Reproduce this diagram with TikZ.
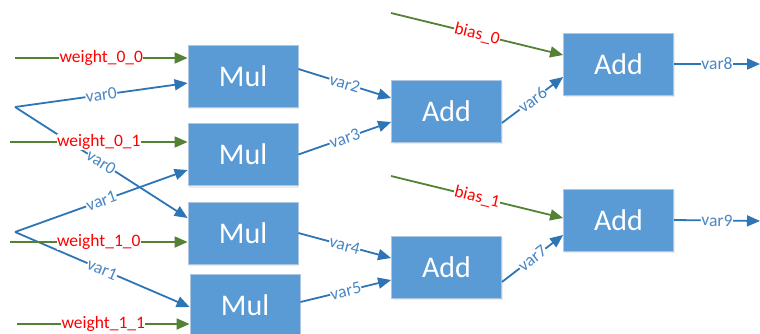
\documentclass[tikz,border=0pt]{standalone}
\usepackage{fontspec}
\setmainfont{Carlito}
\usepackage{xcolor}
\usetikzlibrary{positioning,calc,arrows.meta,shadows}
\definecolor{boxblue}{HTML}{5B9BD5}
\definecolor{boxedge}{HTML}{AFC6E0}
\definecolor{flowblue}{HTML}{2E75B6}
\definecolor{labelblue}{HTML}{4A86C4}
\definecolor{weightgreen}{HTML}{548235}
\tikzset{
    opbox/.style={draw=boxedge, line width=0.8pt, fill=boxblue, text=white,
        minimum width=110pt, minimum height=62pt, inner sep=0pt,
        font=\fontsize{30}{30}\selectfont,
        drop shadow={shadow xshift=1pt, shadow yshift=-2pt, opacity=0.15}},
    varflow/.style={draw=flowblue, line width=1.8pt, -{Triangle[length=13pt,width=11pt]}},
    paramflow/.style={draw=weightgreen, line width=1.8pt, -{Triangle[length=13pt,width=11pt]}},
    varlbl/.style={midway, sloped, fill=white, inner sep=0.5pt, text=labelblue,
        font=\fontsize{17.5}{17.5}\selectfont},
    paramlbl/.style={midway, sloped, fill=white, inner sep=0.5pt, text=red,
        font=\fontsize{17.5}{17.5}\selectfont}
}

\begin{document}
\begin{tikzpicture}[x=1pt, y=-1pt]
    \useasboundingbox (0,0) rectangle (760,333);

    % Mul layer
    \node[opbox] (mul1) at (243,76) {Mul};
    \node[opbox] (mul2) at (243,154.5) {Mul};
    \node[opbox] (mul3) at (243,233) {Mul};
    \node[opbox] (mul4) at (245,305) {Mul};

    % Add layers
    \node[opbox] (addA) at (446.5,111) {Add};
    \node[opbox] (addB) at (446.5,267) {Add};
    \node[opbox] (addC) at (618.5,64) {Add};
    \node[opbox] (addD) at (618.5,220) {Add};

    % free ends
    \coordinate (x0) at (15,107);
    \coordinate (x1) at (15,232);
    \coordinate (w00) at (15,58);
    \coordinate (w01) at (10,142);
    \coordinate (w10) at (10,242);
    \coordinate (w11) at (17,324);
    \coordinate (b0) at (391,13);
    \coordinate (b1) at (391,176);
    \coordinate (out8) at (760,64);
    \coordinate (out9) at (760,221);

    % inputs
    \draw[varflow] (x0) -- ([yshift=-7pt]mul1.west) node[varlbl] {var0};
    \draw[varflow] (x0) -- ([yshift=15pt]mul3.west) node[varlbl] {var0};
    \draw[varflow] (x1) -- ([yshift=-15.5pt]mul2.west) node[varlbl] {var1};
    \draw[varflow] (x1) -- ([yshift=-2pt]mul4.west) node[varlbl] {var1};

    \draw[paramflow] (w00) -- (w00 -| mul1.west) node[paramlbl] {weight\_0\_0};
    \draw[paramflow] (w01) -- (w01 -| mul2.west) node[paramlbl] {weight\_0\_1};
    \draw[paramflow] (w10) -- (w10 -| mul3.west) node[paramlbl] {weight\_1\_0};
    \draw[paramflow] (w11) -- (w11 -| mul4.west) node[paramlbl] {weight\_1\_1};

    % Mul -> Add
    \draw[varflow] ([yshift=7pt]mul1.east) -- ([yshift=13pt]addA.west) node[varlbl] {var2};
    \draw[varflow] (mul2.east) -- ([yshift=-11pt]addA.west) node[varlbl] {var3};
    \draw[varflow] (mul3.east) -- ([yshift=9pt]addB.west) node[varlbl] {var4};
    \draw[varflow] ([yshift=3pt]mul4.east) -- ([yshift=-13pt]addB.west) node[varlbl] {var5};

    % Add -> Add (bias)
    \draw[varflow] ([yshift=-12pt]addA.east) -- ([yshift=-13pt]addC.west) node[varlbl] {var6};
    \draw[varflow] ([yshift=-15pt]addB.east) -- ([yshift=-15pt]addD.west) node[varlbl] {var7};
    \draw[paramflow] (b0) -- ([yshift=9pt]addC.west) node[paramlbl] {bias\_0};
    \draw[paramflow] (b1) -- ([yshift=2pt]addD.west) node[paramlbl] {bias\_1};

    % outputs
    \draw[varflow] (addC.east) -- (out8) node[varlbl] {var8};
    \draw[varflow] (addD.east) -- (out9) node[varlbl] {var9};
\end{tikzpicture}
\end{document}
